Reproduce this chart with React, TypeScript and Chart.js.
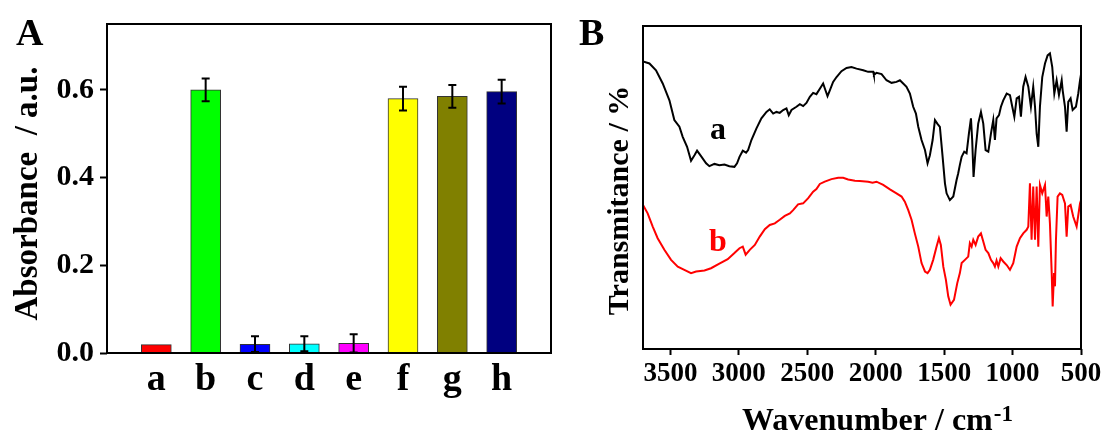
import React, { useEffect, useRef } from "react";
import { Chart, registerables } from "chart.js";

Chart.register(...registerables);

const SERIF = "'Liberation Serif', 'Times New Roman', serif";

// ---------- Panel A data ----------
const CATEGORIES = ["a", "b", "c", "d", "e", "f", "g", "h"];
const ABSORBANCE = [0.019, 0.6, 0.02, 0.021, 0.022, 0.58, 0.585, 0.596];
const ABS_ERROR = [0, 0.026, 0.018, 0.017, 0.021, 0.027, 0.026, 0.027];
const BAR_COLORS = ["#ff0000", "#00ff00", "#0000ff", "#00ffff", "#ff00ff", "#ffff00", "#808000", "#000080"];
const Y_TICKS_A = [0, 0.2, 0.4, 0.6];

// ---------- Panel B data ----------
const WN_TICKS = [3500, 3000, 2500, 2000, 1500, 1000, 500];

const WAVENUMBER_A = [
  3700, 3653, 3605, 3556, 3507, 3471, 3434, 3410, 3378, 3349, 3324, 3305, 3276, 3239, 3215, 3178, 3142, 3105, 3069, 3032,
  3013, 2995, 2971, 2947, 2932, 2908, 2871, 2835, 2798, 2774, 2749, 2725, 2701, 2676, 2652, 2635, 2615, 2579, 2554, 2530,
  2506, 2481, 2457, 2433, 2408, 2384, 2367, 2352, 2335, 2311, 2286, 2250, 2213, 2177, 2140, 2091, 2055, 2018, 2013, 1994,
  1957, 1921, 1884, 1848, 1823, 1799, 1775, 1750, 1726, 1706, 1689, 1665, 1640, 1621, 1604, 1584, 1567, 1550, 1531, 1511,
  1494, 1482, 1458, 1433, 1409, 1397, 1385, 1372, 1353, 1336, 1319, 1304, 1295, 1285, 1270, 1251, 1231, 1214, 1197, 1177,
  1158, 1141, 1129, 1117, 1099, 1085, 1068, 1043, 1019, 1002, 987, 970, 953, 939, 922, 905, 885, 866, 849, 836,
  824, 812, 800, 783, 763, 744, 727, 710, 695, 678, 661, 641, 634, 617, 605, 593, 576, 561, 537, 520,
  507, 500,
];
const TRANSMITTANCE_A = [
  89.0, 88.4, 86.3, 82.2, 77.0, 70.9, 68.8, 65.7, 62.6, 58.3, 60.0, 61.4, 59.7, 57.5, 56.6, 57.3, 56.9, 57.1, 56.6, 56.4,
  57.5, 59.5, 61.4, 60.8, 61.6, 64.7, 68.3, 71.4, 73.4, 74.2, 72.9, 73.4, 73.1, 74.0, 74.5, 72.4, 74.0, 75.0, 75.8, 75.2,
  76.2, 78.1, 79.3, 78.9, 80.6, 82.2, 80.1, 78.3, 80.1, 82.7, 84.2, 86.0, 87.0, 87.3, 86.8, 86.3, 85.8, 85.8, 84.8, 85.5,
  85.1, 83.2, 82.4, 82.7, 83.2, 82.2, 81.2, 79.1, 75.0, 72.9, 68.8, 64.7, 61.6, 57.5, 60.0, 64.7, 70.9, 69.8, 68.8, 59.5,
  51.3, 48.2, 46.1, 47.2, 52.3, 54.4, 57.0, 59.5, 61.1, 60.6, 66.7, 71.4, 64.7, 53.3, 61.6, 69.8, 73.4, 69.8, 61.6, 61.1,
  66.7, 70.9, 64.7, 71.4, 72.4, 75.0, 77.0, 79.1, 78.6, 75.0, 71.9, 77.6, 78.1, 71.9, 81.2, 84.2, 81.2, 75.0, 81.2, 75.0,
  66.7, 62.6, 75.0, 84.2, 88.4, 90.9, 91.5, 87.3, 79.1, 83.2, 78.6, 83.2, 80.1, 75.0, 67.3, 76.5, 77.6, 74.0, 75.0, 79.1,
  83.2, 85.0,
];

const WAVENUMBER_B = [
  3700, 3666, 3629, 3593, 3544, 3495, 3446, 3398, 3349, 3312, 3251, 3203, 3142, 3081, 3032, 2995, 2971, 2950, 2920, 2883,
  2847, 2810, 2774, 2737, 2701, 2664, 2627, 2603, 2567, 2530, 2493, 2457, 2433, 2408, 2372, 2323, 2274, 2238, 2201, 2152,
  2116, 2055, 2023, 1994, 1945, 1896, 1848, 1811, 1787, 1762, 1738, 1714, 1689, 1665, 1640, 1621, 1604, 1580, 1555, 1538,
  1524, 1506, 1487, 1470, 1453, 1428, 1404, 1385, 1372, 1348, 1324, 1312, 1299, 1287, 1270, 1251, 1231, 1214, 1197, 1177,
  1158, 1141, 1129, 1117, 1104, 1087, 1068, 1043, 1019, 995, 970, 946, 922, 897, 885, 873, 861, 849, 836, 824,
  812, 800, 783, 763, 751, 739, 727, 714, 707, 697, 690, 683, 671, 654, 637, 617, 605, 593, 576, 557,
  532, 507, 500,
];
const TRANSMITTANCE_B = [
  44.6, 42.0, 37.9, 34.3, 30.7, 27.6, 25.5, 24.5, 23.5, 24.0, 24.3, 25.0, 26.4, 27.8, 29.7, 31.2, 31.7, 29.2, 30.7, 32.2,
  34.8, 37.1, 38.4, 38.9, 40.0, 41.2, 42.0, 43.0, 44.8, 45.1, 46.7, 48.7, 49.5, 51.1, 51.8, 52.6, 53.0, 53.0, 52.5, 52.1,
  52.0, 51.8, 51.5, 51.8, 50.8, 49.4, 48.2, 47.2, 45.6, 43.0, 40.0, 35.8, 31.7, 26.6, 24.0, 23.5, 24.5, 27.6, 31.7, 34.3,
  32.2, 25.5, 21.4, 16.3, 13.7, 15.2, 20.4, 23.5, 26.6, 27.6, 28.6, 32.8, 31.7, 33.8, 32.2, 34.8, 35.8, 33.3, 30.7, 29.7,
  27.6, 26.6, 25.5, 27.4, 25.5, 28.1, 27.1, 26.0, 24.5, 26.6, 31.7, 34.3, 35.8, 36.9, 37.9, 51.3, 33.8, 50.3, 33.8, 50.3,
  31.7, 50.8, 48.2, 50.8, 41.0, 47.2, 38.9, 23.5, 13.2, 23.5, 19.4, 33.8, 47.2, 48.2, 47.7, 45.1, 34.8, 44.1, 44.6, 41.0,
  37.9, 45.1, 46.0,
];

const PANEL_A = "A";
const PANEL_B = "B";
const Y_TITLE_A = "Absorbance  / a.u.";
const Y_TITLE_B = "Transmitance / %";
const X_TITLE_B = "Wavenumber / cm";
const X_TITLE_B_SUP = "-1";
const CURVE_LABELS = ["a", "b"];
const CURVE_COLORS = ["#000000", "#ff0000"];

const framePlugin = {
  id: "frame",
  afterDraw(chart: any) {
    const { ctx, chartArea } = chart;
    ctx.save();
    ctx.strokeStyle = "#000";
    ctx.lineWidth = 2;
    ctx.strokeRect(chartArea.left, chartArea.top, chartArea.right - chartArea.left, chartArea.bottom - chartArea.top);
    ctx.restore();
  },
};

const errorBarPlugin = {
  id: "errorBars",
  afterDatasetsDraw(chart: any) {
    const { ctx } = chart;
    const xs = chart.scales.x;
    const ys = chart.scales.y;
    ctx.save();
    ctx.strokeStyle = "#000";
    ctx.lineWidth = 2;
    ABSORBANCE.forEach((v, i) => {
      const e = ABS_ERROR[i];
      if (!e) return;
      const x = xs.getPixelForValue(i + 1);
      const yt = ys.getPixelForValue(v + e);
      const yb = ys.getPixelForValue(v - e);
      ctx.beginPath();
      ctx.moveTo(x, yt);
      ctx.lineTo(x, yb);
      ctx.moveTo(x - 4, yt);
      ctx.lineTo(x + 4, yt);
      ctx.moveTo(x - 4, yb);
      ctx.lineTo(x + 4, yb);
      ctx.stroke();
    });
    ctx.restore();
  },
};

const textPluginA = {
  id: "textA",
  afterDraw(chart: any) {
    const { ctx, chartArea } = chart;
    ctx.save();
    ctx.fillStyle = "#000";
    ctx.textBaseline = "alphabetic";
    ctx.textAlign = "left";
    ctx.font = `bold 38px ${SERIF}`;
    ctx.fillText(PANEL_A, 16, 45);
    ctx.translate(37, (chartArea.top + chartArea.bottom) / 2 + 5);
    ctx.rotate(-Math.PI / 2);
    ctx.textAlign = "center";
    ctx.font = `bold 33px ${SERIF}`;
    ctx.fillText(Y_TITLE_A, 0, 0);
    ctx.restore();
  },
};

const textPluginB = {
  id: "textB",
  afterDraw(chart: any) {
    const { ctx, chartArea } = chart;
    ctx.save();
    ctx.fillStyle = "#000";
    ctx.textBaseline = "alphabetic";
    ctx.textAlign = "left";
    ctx.font = `bold 38px ${SERIF}`;
    ctx.fillText(PANEL_B, 19, 45);

    // curve labels
    ctx.textAlign = "center";
    ctx.font = `bold 32px ${SERIF}`;
    ctx.fillStyle = CURVE_COLORS[0];
    ctx.fillText(CURVE_LABELS[0], 158, 139);
    ctx.fillStyle = CURVE_COLORS[1];
    ctx.fillText(CURVE_LABELS[1], 158, 251);

    // x title with superscript
    ctx.fillStyle = "#000";
    ctx.textAlign = "left";
    ctx.font = `bold 32px ${SERIF}`;
    const w1 = ctx.measureText(X_TITLE_B).width;
    ctx.font = `bold 23px ${SERIF}`;
    const w2 = ctx.measureText(X_TITLE_B_SUP).width;
    const cx = (chartArea.left + chartArea.right) / 2 + 15;
    const start = cx - (w1 + w2) / 2;
    ctx.font = `bold 32px ${SERIF}`;
    ctx.fillText(X_TITLE_B, start, 430);
    ctx.font = `bold 23px ${SERIF}`;
    ctx.fillText(X_TITLE_B_SUP, start + w1 + 1, 421);

    // y title
    ctx.translate(68, (chartArea.top + chartArea.bottom) / 2 + 13);
    ctx.rotate(-Math.PI / 2);
    ctx.textAlign = "center";
    ctx.font = `bold 30px ${SERIF}`;
    ctx.fillText(Y_TITLE_B, 0, 0);
    ctx.restore();
  },
};

function PanelA() {
  const ref = useRef<HTMLCanvasElement | null>(null);
  useEffect(() => {
    if (!ref.current) return;
    const chart = new Chart(ref.current, {
      type: "bar",
      data: {
        datasets: [
          {
            data: CATEGORIES.map((_, i) => ({ x: i + 1, y: ABSORBANCE[i] })),
            backgroundColor: BAR_COLORS,
            borderColor: "#333333",
            borderWidth: 1,
            barThickness: 30,
          } as any,
        ],
      },
      options: {
        animation: false,
        responsive: false,
        devicePixelRatio: 1,
        layout: { padding: { left: 0, top: 24, right: 9, bottom: 0 } },
        plugins: { legend: { display: false }, tooltip: { enabled: false } },
        scales: {
          x: {
            type: "linear",
            min: 0,
            max: 9,
            offset: false,
            grid: { display: false, drawTicks: false },
            border: { display: false },
            afterBuildTicks: (s: any) => {
              s.ticks = CATEGORIES.map((_, i) => ({ value: i + 1 }));
            },
            afterFit: (s: any) => {
              s.height = 81;
            },
            ticks: {
              autoSkip: false,
              maxRotation: 0,
              padding: 4,
              color: "#000",
              font: { family: SERIF, size: 38, weight: "bold" },
              callback: (v: any) => CATEGORIES[Math.round(Number(v)) - 1] ?? "",
            },
          },
          y: {
            min: 0,
            max: 0.75,
            grid: { display: true, drawOnChartArea: false, tickLength: 7, tickWidth: 2, tickColor: "#000" },
            border: { display: false },
            afterBuildTicks: (s: any) => {
              s.ticks = Y_TICKS_A.map((v) => ({ value: v }));
            },
            afterFit: (s: any) => {
              s.width = 107;
            },
            ticks: {
              padding: 6,
              color: "#000",
              font: { family: SERIF, size: 30, weight: "bold" },
              callback: (v: any) => Number(v).toFixed(1),
            },
          },
        },
      } as any,
      plugins: [errorBarPlugin, framePlugin, textPluginA],
    });
    return () => chart.destroy();
  }, []);
  return <canvas ref={ref} width={560} height={434} style={{ position: "absolute", left: 0, top: 0, width: 560, height: 434 }} />;
}

function PanelB() {
  const ref = useRef<HTMLCanvasElement | null>(null);
  useEffect(() => {
    if (!ref.current) return;
    const chart = new Chart(ref.current, {
      type: "line",
      data: {
        datasets: [
          {
            data: WAVENUMBER_A.map((w, i) => ({ x: w, y: TRANSMITTANCE_A[i] })),
            borderColor: CURVE_COLORS[0],
            borderWidth: 2,
            pointRadius: 0,
            tension: 0,
            fill: false,
          },
          {
            data: WAVENUMBER_B.map((w, i) => ({ x: w, y: TRANSMITTANCE_B[i] })),
            borderColor: CURVE_COLORS[1],
            borderWidth: 2,
            pointRadius: 0,
            tension: 0,
            fill: false,
          },
        ],
      },
      options: {
        animation: false,
        responsive: false,
        devicePixelRatio: 1,
        layout: { padding: { left: 0, top: 26, right: 26, bottom: 0 } },
        plugins: { legend: { display: false }, tooltip: { enabled: false } },
        scales: {
          x: {
            type: "linear",
            min: 500,
            max: 3700,
            reverse: true,
            grid: { display: true, drawOnChartArea: false, tickLength: 6, tickWidth: 2, tickColor: "#000" },
            border: { display: false },
            afterBuildTicks: (s: any) => {
              s.ticks = WN_TICKS.map((v) => ({ value: v }));
            },
            afterFit: (s: any) => {
              s.height = 85;
            },
            ticks: {
              autoSkip: false,
              maxRotation: 0,
              padding: 3,
              color: "#000",
              font: { family: SERIF, size: 27, weight: "bold" },
              callback: (v: any) => String(v),
            },
          },
          y: {
            type: "linear",
            min: 0,
            max: 100,
            grid: { display: false },
            border: { display: false },
            ticks: { display: false },
            afterFit: (s: any) => {
              s.width = 83;
            },
          },
        },
      } as any,
      plugins: [framePlugin, textPluginB],
    });
    return () => chart.destroy();
  }, []);
  return <canvas ref={ref} width={547} height={434} style={{ position: "absolute", left: 560, top: 0, width: 547, height: 434 }} />;
}

export default function App() {
  return (
    <div style={{ position: "absolute", left: 0, top: 0, width: 1107, height: 434, background: "#fff", overflow: "hidden" }}>
      <PanelA />
      <PanelB />
    </div>
  );
}
